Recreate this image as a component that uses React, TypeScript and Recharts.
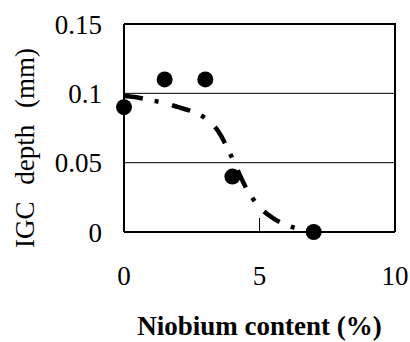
import {
  ComposedChart, Scatter, Line, XAxis, YAxis, CartesianGrid, ReferenceLine,
} from 'recharts'

// measured points
const niobium = [0, 1.5, 3, 4, 7]
const igcDepth = [0.09, 0.11, 0.11, 0.04, 0]

// fitted (dash-dot) curve
const fitX = [0, 0.5, 1, 1.5, 2, 2.5, 3, 3.5, 4, 4.5, 5, 5.5, 6, 6.5]
const fitY = [0.098, 0.097, 0.095, 0.093, 0.09, 0.087, 0.082, 0.072, 0.053, 0.032, 0.018, 0.01, 0.005, 0.002]

const xTicks = [0, 5, 10]
const yTicks = [0, 0.05, 0.1, 0.15]

const points = niobium.map((x, i) => ({ x, y: igcDepth[i] }))
const fit = fitX.map((x, i) => ({ x, y: fitY[i] }))

const FONT = 'Liberation Serif, Times New Roman, serif'
const tickStyle = { fontSize: 27, fontFamily: FONT, fill: '#000' }

// plot box (follows from margins / axis sizes below)
const M = { top: 24, right: 15, left: 0, bottom: 0 }
const Y_W = 124
const X_H = 110

export default function App() {
  return (
    <div style={{ position: 'absolute', left: 0, top: 0, width: 410, height: 342, background: '#fff' }}>
      <ComposedChart width={410} height={342} margin={M}>
        <CartesianGrid vertical={false} stroke="#000" strokeWidth={1} />
        <XAxis
          type="number" dataKey="x" domain={[0, 10]} ticks={xTicks}
          height={X_H} axisLine={{ stroke: '#000', strokeWidth: 2 }}
          tickLine={{ stroke: '#000', strokeWidth: 1 }}
          tickSize={-14} tickMargin={48}
          tick={tickStyle}
          label={{
            value: 'Niobium content (%)', position: 'insideBottom', offset: 7,
            fontSize: 27, fontFamily: FONT, fontWeight: 'bold', fill: '#000',
          }}
        />
        <YAxis
          type="number" domain={[0, 0.15]} ticks={yTicks}
          width={Y_W} axisLine={{ stroke: '#000', strokeWidth: 2 }}
          tickLine={false} tickSize={0} tickMargin={22}
          tick={tickStyle}
          label={{
            value: 'IGC depth (mm)', angle: -90, position: 'center', dx: -38, dy: 20,
            fontSize: 27, fontFamily: FONT, fill: '#000', wordSpacing: 10,
          }}
        />
        <ReferenceLine y={0.15} stroke="#000" strokeWidth={2} />
        <ReferenceLine x={10} stroke="#000" strokeWidth={2} />
        <Line
          data={fit} dataKey="y" type="monotone"
          stroke="#000" strokeWidth={4.5} strokeDasharray="19 12 4 14"
          dot={false} activeDot={false} isAnimationActive={false}
        />
        <Scatter
          data={points} dataKey="y" isAnimationActive={false}
          shape={(p: any) => <circle cx={p.cx} cy={p.cy} r={8} fill="#000" />}
        />
      </ComposedChart>
      {/* top and right edges of the plot frame */}
      <div
        style={{
          position: 'absolute', pointerEvents: 'none', boxSizing: 'border-box',
          left: M.left + Y_W, top: M.top - 1,
          width: 410 - M.right - M.left - Y_W + 1, height: 342 - M.top - X_H + 1,
          borderTop: '2px solid #000', borderRight: '2px solid #000',
        }}
      />
    </div>
  )
}
